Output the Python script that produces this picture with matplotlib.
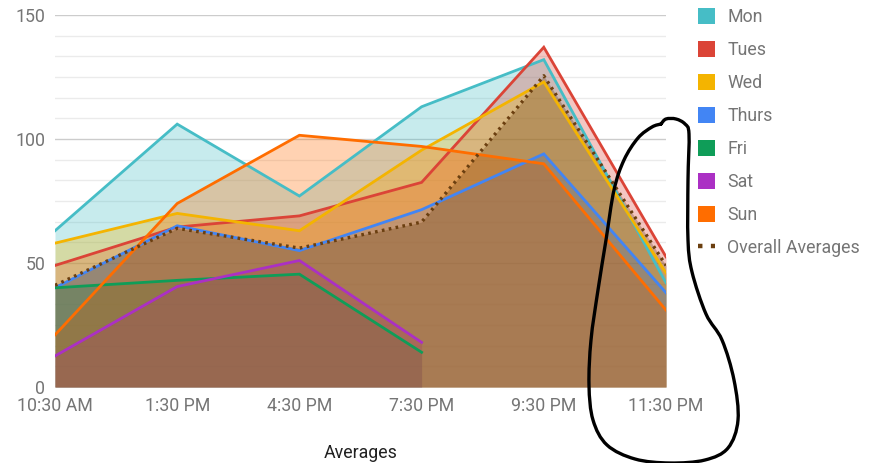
import numpy as np
import matplotlib.pyplot as plt
from matplotlib.patches import Patch
from matplotlib.lines import Line2D
from matplotlib.path import Path
from matplotlib.patches import PathPatch

plt.rcParams['font.family'] = ['Roboto', 'DejaVu Sans']

times = ['10:30 AM', '1:30 PM', '4:30 PM', '7:30 PM', '9:30 PM', '11:30 PM']
nan = np.nan

mon = [63, 106, 77, 113, 132, 42]
tues = [49, 64.5, 69, 82.5, 137, 52.5]
wed = [58, 70, 63, 95.5, 123, 46]
thurs = [40, 65, 55, 71.5, 94, 38]
fri = [40, 43, 45.5, 14, nan, nan]
sat = [12.5, 40.5, 51, 18, nan, nan]
sun = [21, 74, 101.5, 97, 90, 31]
overall = [41, 64, 56, 66.5, 125.5, 49]

series = [('Mon', mon, '#46bdc6'),
          ('Tues', tues, '#db4437'),
          ('Wed', wed, '#f4b400'),
          ('Thurs', thurs, '#4285f4'),
          ('Fri', fri, '#0f9d58'),
          ('Sat', sat, '#ab30c4'),
          ('Sun', sun, '#ff6d00')]
avg_color = '#6b3f10'
fs = 12.8

fig = plt.figure(figsize=(8.81, 4.63), dpi=100)
ax = fig.add_axes([55 / 881, 1 - 387 / 463, 611 / 881, 372 / 463])

x = np.arange(len(times))

# areas first, then the lines on top
for name, vals, col in series:
    v = np.array(vals, dtype=float)
    ax.fill_between(x, 0, v, color=col, alpha=0.3, linewidth=0, zorder=2)
ax.fill_between(x, 0, np.array(overall, dtype=float), color=avg_color,
                alpha=0.3, linewidth=0, zorder=2)

for name, vals, col in series:
    ax.plot(x, vals, color=col, linewidth=2, zorder=3, solid_joinstyle='miter')
ax.plot(x, overall, color=avg_color, linewidth=2.4, zorder=4,
        linestyle=(0, (0.8, 1.3)), dash_capstyle='butt')

ax.set_xlim(0, 5)
ax.set_ylim(0, 150)
ax.set_xticks(x)
ax.set_xticklabels(times)
ax.set_yticks([0, 50, 100, 150])
ax.set_yticks(np.arange(0, 150, 50 / 6), minor=True)
ax.tick_params(axis='both', which='both', length=0, labelsize=fs,
               labelcolor='#757575')
ax.tick_params(axis='x', pad=7)
ax.tick_params(axis='y', pad=7)
ax.grid(True, which='major', axis='y', color='#cccccc', linewidth=1, zorder=0)
ax.grid(True, which='minor', axis='y', color='#ebebeb', linewidth=1, zorder=0)
ax.set_axisbelow(True)
for s in ax.spines.values():
    s.set_visible(False)
ax.set_xlabel('Averages', fontsize=fs, color='#222222', labelpad=21)

handles = [Patch(facecolor=col, edgecolor='none') for _, _, col in series]
handles.append(Line2D([0], [0], color=avg_color, linewidth=3.2,
                      linestyle=(0, (1, 1.9)), dash_capstyle='butt'))
labels = [name for name, _, _ in series] + ['Overall Averages']
fig.legend(handles, labels, loc='upper left',
           bbox_to_anchor=(691 / 881, 1 - 1 / 463), frameon=False,
           fontsize=fs, labelcolor='#757575', handlelength=0.95,
           handleheight=0.95, handletextpad=0.7, labelspacing=0.845,
           borderaxespad=0)

# hand-drawn loop over the right side of the chart
loop = np.array([(661, 124), (666, 119), (676, 119), (685, 124), (689, 134),
                 (688, 180), (688, 240), (692, 272), (706, 314), (722, 340),
                 (734, 380), (738, 420), (728, 448), (705, 460), (670, 463),
                 (635, 459), (607, 445), (593, 420), (589, 385), (591, 340),
                 (598, 290), (606, 240), (614, 190), (624, 160), (638, 138),
                 (652, 127), (661, 124)], dtype=float)
verts = [loop[0]]
codes = [Path.MOVETO]
for i in range(len(loop) - 1):
    p0 = loop[max(i - 1, 0)]
    p1 = loop[i]
    p2 = loop[i + 1]
    p3 = loop[min(i + 2, len(loop) - 1)]
    verts += [p1 + (p2 - p0) / 6, p2 - (p3 - p1) / 6, p2]
    codes += [Path.CURVE4] * 3
verts = np.array(verts)
verts[:, 0] /= 881
verts[:, 1] = 1 - verts[:, 1] / 463
fig.patches.append(PathPatch(Path(verts, codes), transform=fig.transFigure,
                             fill=False, edgecolor='black', linewidth=2.4,
                             capstyle='round', joinstyle='round'))

fig.savefig('out.png', dpi=100)
